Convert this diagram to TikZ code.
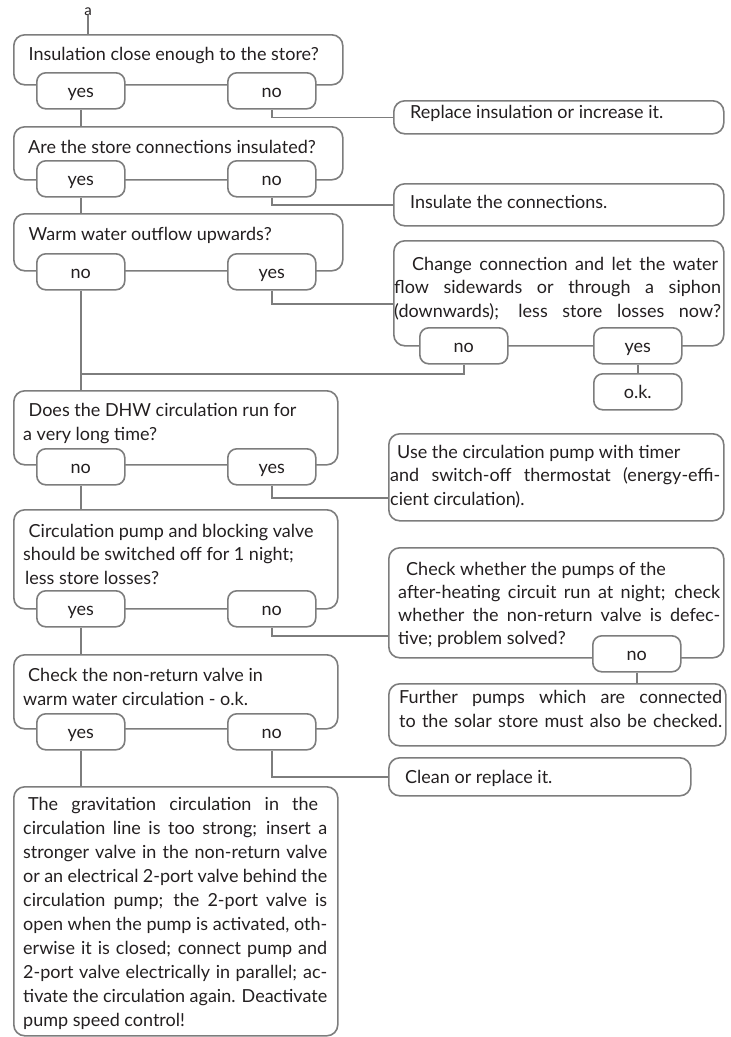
\documentclass[tikz,border=0pt]{standalone}
\usepackage{fontspec}
\setmainfont{Lato}
\usepackage{tikz}
\usetikzlibrary{positioning,calc}
\definecolor{fcline}{HTML}{7D7D7D}
\definecolor{fctext}{HTML}{231F20}

\begin{document}
\begin{tikzpicture}[x=1pt, y=-1pt,
  every node/.style={font=\fontsize{18}{23.5}\selectfont, text=fctext},
  frame/.style={draw=fcline, line width=1.6pt, rounded corners=11pt, anchor=north west, inner sep=0pt},
  answer/.style={draw=fcline, line width=1.6pt, rounded corners=9pt, fill=white, anchor=north west,
    inner sep=0pt, minimum width=88pt, minimum height=36pt, text height=15pt, text depth=2pt},
  txt/.style={anchor=base west, inner sep=0pt, align=left},
  conn/.style={draw=fcline, line width=1.6pt}]
  \useasboundingbox (0,0) rectangle (731,1037);
  % Frames, left column
  \node[frame, minimum width=329pt, minimum height=50pt] (q1) at (13,34) {};
  \node[frame, minimum width=329pt, minimum height=53pt] (q2) at (13,126) {};
  \node[frame, minimum width=329pt, minimum height=57pt] (q3) at (13,213) {};
  \node[frame, minimum width=324pt, minimum height=74pt] (q4) at (13,390) {};
  \node[frame, minimum width=324pt, minimum height=99pt] (q5) at (13,509) {};
  \node[frame, minimum width=324pt, minimum height=74pt] (q6) at (13,654) {};
  \node[frame, minimum width=324pt, minimum height=249pt] (q7) at (13,786) {};
  % Frames, right column
  \node[frame, minimum width=330pt, minimum height=33pt] (r1) at (393,100) {};
  \node[frame, minimum width=330pt, minimum height=42pt] (r2) at (393,183) {};
  \node[frame, minimum width=330pt, minimum height=105pt] (ch) at (393,240) {};
  \node[frame, minimum width=335pt, minimum height=87pt] (r3) at (388,433) {};
  \node[frame, minimum width=335pt, minimum height=110pt] (r4) at (388,547) {};
  \node[frame, minimum width=337pt, minimum height=62pt] (r5) at (388,683) {};
  \node[frame, minimum width=302pt, minimum height=38pt] (r6) at (388,757) {};
  % Answers
  \node[answer] (q1y) at (36,72) {yes};
  \node[answer] (q1n) at (227,72) {no};
  \node[answer] (q2y) at (36,160) {yes};
  \node[answer] (q2n) at (227,160) {no};
  \node[answer] (q3n) at (36,253) {no};
  \node[answer] (q3y) at (227,253) {yes};
  \node[answer] (chn) at (419,327) {no};
  \node[answer] (chy) at (593,327) {yes};
  \node[answer] (ok) at (593,373) {o.k.};
  \node[answer] (q4n) at (36,448) {no};
  \node[answer] (q4y) at (227,448) {yes};
  \node[answer] (q5y) at (36,590) {yes};
  \node[answer] (q5n) at (227,590) {no};
  \node[answer] (r4n) at (592,635) {no};
  \node[answer] (q6y) at (36,713) {yes};
  \node[answer] (q6n) at (227,713) {no};
  % Texts, left column (anchored on the last line)
  \node[anchor=base, inner sep=0pt, font=\fontsize{15}{16}\selectfont] (a) at (88,15) {a};
  \node[txt] (q1t) at (23,60) {\hspace*{5.5pt}Insulation close enough to the store?};
  \node[txt] (q2t) at (23,153) {\hspace*{5pt}Are the store connections insulated?};
  \node[txt] (q3t) at (23,240) {\hspace*{5.5pt}Warm water outflow upwards?};
  \node[txt] (q4t) at (23,440) {\hspace*{5.5pt}Does the DHW circulation run for\\a very long time?};
  \node[txt] (q5t) at (23,584) {\hspace*{5.5pt}Circulation pump and blocking valve\\should be switched off for 1 night;\\\hspace*{2pt}less store losses?};
  \node[txt] (q6t) at (23,705) {\hspace*{5pt}Check the non-return valve in\\warm water circulation - o.k.};
  \node[txt, font=\fontsize{18}{24}\selectfont] (q7t) at (23,1026) {%
    \hspace*{5pt}\makebox[290pt][s]{The gravitation circulation in the}\\
    \makebox[304pt][s]{circulation line is too strong; insert a}\\
    \makebox[304pt][s]{stronger valve in the non-return valve}\\
    \makebox[304pt][s]{or an electrical 2-port valve behind the}\\
    \makebox[304pt][s]{circulation pump; the 2-port valve is}\\
    \makebox[304pt][s]{open when the pump is activated, oth-}\\
    \makebox[304pt][s]{erwise it is closed; connect pump and}\\
    \makebox[304pt][s]{2-port valve electrically in parallel; ac-}\\
    \makebox[304pt][s]{tivate the circulation again. Deactivate}\\
    pump speed control!};
  % Texts, right column
  \node[txt] (r1t) at (410,118) {Replace insulation or increase it.};
  \node[txt] (r2t) at (410,208) {Insulate the connections.};
  \node[txt] (cht) at (394,317) {%
    \hspace*{18pt}\makebox[306pt][s]{Change connection and let the water}\\
    \makebox[327pt][s]{flow sidewards or through a siphon}\\
    \makebox[327pt][s]{(downwards); less store losses now?}};
  \node[txt] (r3t) at (390,505) {%
    \hspace*{7pt}Use the circulation pump with timer\\
    \makebox[330pt][s]{and switch-off thermostat (energy-effi-}\\
    cient circulation).};
  \node[txt, font=\fontsize{18}{23}\selectfont] (r4t) at (398,644) {%
    \hspace*{8pt}Check whether the pumps of the\\
    \makebox[322pt][s]{after-heating circuit run at night; check}\\
    \makebox[322pt][s]{whether the non-return valve is defec-}\\
    tive; problem solved?};
  \node[txt] (r5t) at (399,727) {%
    \makebox[323pt][s]{Further pumps which are connected}\\
    \makebox[323pt][s]{to the solar store must also be checked.}};
  \node[txt] (r6t) at (405,783) {Clean or replace it.};
  % Connectors
  \coordinate (j1) at (80,374);
  \draw[conn] (a.south) -- (a.south |- q1.north);
  \draw[conn] (q1n.south) |- (r1.west);
  \draw[conn] (q1y.south) -- (q1y.south |- q2.north);
  \draw[conn] (q2n.south) |- (r2.west);
  \draw[conn] (q2y.south) -- (q2y.south |- q3.north);
  \draw[conn] (q3y.south) |- ([yshift=-10.5pt]ch.west);
  \draw[conn] (q3n.south) -- (q3n.south |- q4.north);
  \draw[conn] (chn.south) |- (j1);
  \draw[conn] (chy.south) -- (ok.north);
  \draw[conn] (q4y.south) |- ([yshift=-20.5pt]r3.west);
  \draw[conn] (q4n.south) -- (q4n.south |- q5.north);
  \draw[conn] (q5n.south) |- ([yshift=-33pt]r4.west);
  \draw[conn] (q5y.south) -- (q5y.south |- q6.north);
  \draw[conn] (r4n.south) -- (r4n.south |- r5.north);
  \draw[conn] (q6n.south) |- (r6.west);
  \draw[conn] (q6y.south) -- (q6y.south |- q7.north);
\end{tikzpicture}
\end{document}
